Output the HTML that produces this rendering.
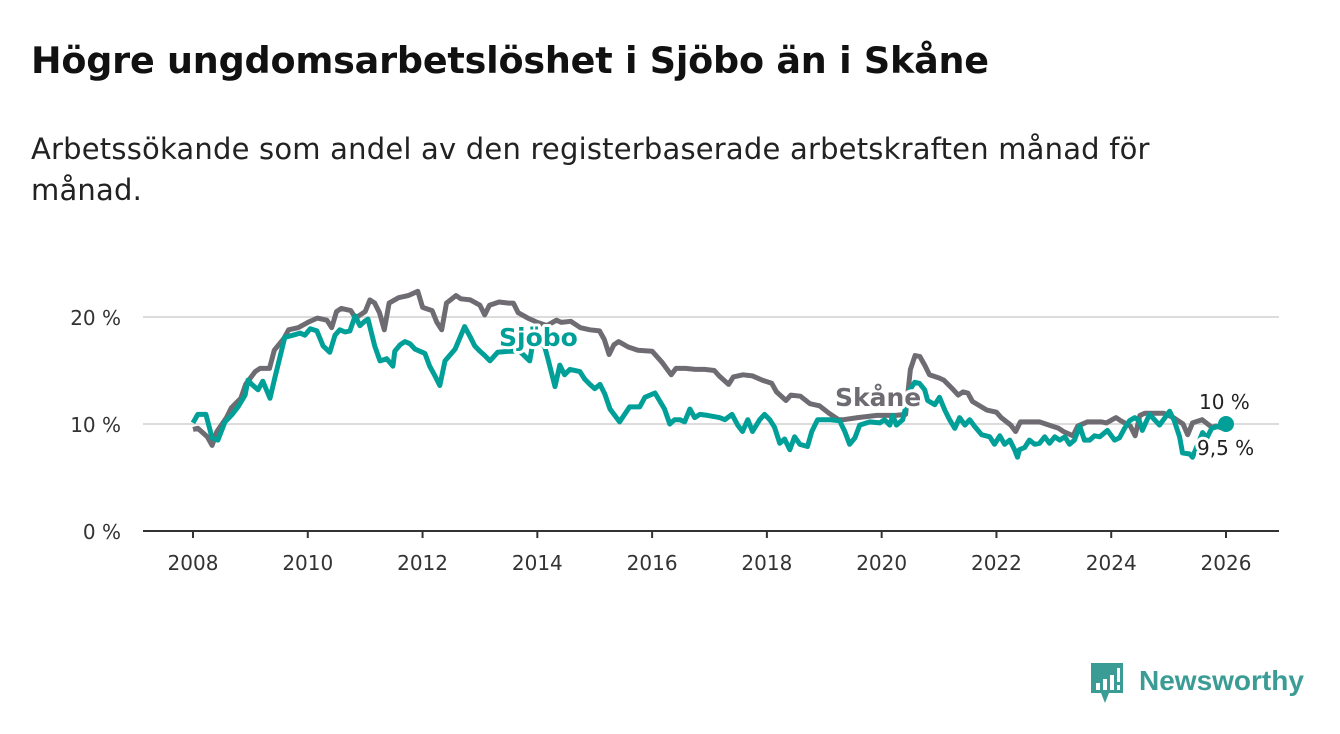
<!DOCTYPE html>
<html><head><meta charset="utf-8"><style>
body{margin:0;width:1340px;height:734px;background:#fff;font-family:"DejaVu Sans","Liberation Sans",sans-serif;overflow:hidden;position:relative}
#title{position:absolute;left:31px;top:39px;font-size:36.5px;font-weight:bold;color:#111;margin:0;letter-spacing:-0.2px}
#sub{position:absolute;left:31px;top:129px;font-size:29px;line-height:41px;color:#222;width:1250px;margin:0;letter-spacing:0.2px}
svg{position:absolute;left:0;top:0}
</style></head><body>
<h1 id="title">Högre ungdomsarbetslöshet i Sjöbo än i Skåne</h1>
<p id="sub">Arbetssökande som andel av den registerbaserade arbetskraften månad för<br>månad.</p>
<svg id="chart" width="1340" height="734"></svg>
<div style="position:absolute;left:1089px;top:663px;display:flex;align-items:center">
<svg width="36" height="42" style="position:relative"><path d="M2 0h32v30h-14l-4 10l-4-10h-10z" fill="#3a9c94"/><rect x="7" y="20" width="4" height="7" fill="#fff"/><rect x="14" y="16" width="4" height="11" fill="#fff"/><rect x="21" y="12" width="4" height="15" fill="#fff"/><rect x="28" y="5" width="3" height="14" fill="#fff"/><rect x="28" y="22" width="3" height="5" fill="#fff"/></svg>
<span style="font-family:'Liberation Sans',sans-serif;font-size:28px;font-weight:bold;color:#3a9c94;margin-left:14px;margin-top:-6px">Newsworthy</span></div>
<script>
const yTicks=[0,10,20];
const yTickLabels=["0 %","10 %","20 %"];
const xTicks=[2008,2010,2012,2014,2016,2018,2020,2022,2024,2026];
const skaneMonths=[0,1,3,4,5,7,8,10,11,13,14,16,17,19,20,22,24,26,28,29,30,31,33,34,36,37,38,39,40,41,43,45,47,48,50,51,52,53,55,56,58,60,61,62,64,66,67,68,70,72,74,76,77,79,81,83,85,86,87,88,89,91,93,96,98,100,101,103,105,107,109,110,112,113,115,117,119,121,122,124,125,127,129,131,133,135,136,139,143,147,149,150,151,152,153,154,156,157,159,160,161,162,163,166,168,169,171,172,173,177,179,181,182,184,185,187,190,191,193,194,196,197,198,199,202,203,205,207,208,209,211,213,214,216];
const skaneValues=[9.5,9.6,8.8,8.0,9.3,10.6,11.5,12.4,13.7,14.9,15.2,15.2,16.9,18.0,18.8,19.0,19.5,19.9,19.7,19.0,20.5,20.8,20.6,19.9,20.5,21.6,21.3,20.4,18.8,21.3,21.8,22.0,22.4,20.9,20.6,19.5,18.8,21.3,22.0,21.7,21.6,21.1,20.2,21.1,21.4,21.3,21.3,20.4,19.9,19.5,19.2,19.7,19.5,19.6,19.0,18.8,18.7,17.9,16.5,17.4,17.7,17.2,16.9,16.8,15.8,14.6,15.2,15.2,15.1,15.1,15.0,14.5,13.7,14.4,14.6,14.5,14.1,13.8,13.0,12.2,12.7,12.6,11.9,11.7,11.0,10.4,10.4,10.6,10.8,10.8,10.9,15.1,16.4,16.3,15.5,14.6,14.3,14.1,13.2,12.7,13.0,12.9,12.1,11.3,11.1,10.6,9.9,9.3,10.2,10.2,9.9,9.6,9.3,8.9,9.8,10.2,10.2,10.1,10.6,10.3,9.8,8.9,10.8,11.0,11.0,11.0,10.6,10.0,9.0,10.1,10.4,9.7,9.8,9.5];
const sjoboMonths=[0,1,2.7,4,5.2,6.7,8.2,9.4,10.9,11.5,12.3,13.6,14.6,16.1,17.1,19.2,20.9,22.4,23.4,24.5,25.9,27.2,28.6,29.7,30.7,31.8,32.8,33.9,34.9,35.9,36.6,38,39.1,40.5,41.8,42.2,43.3,44.3,45.4,46.4,47.4,48.5,49.5,50.6,51.6,52.7,54.8,56.8,57.9,58.9,60,61,62.1,63.7,66.3,68.3,70.4,71.5,73.6,74.2,75.7,76.7,77.7,78.8,80.9,81.9,83,84,85.1,86.1,87.2,89.2,91.3,93.4,94.5,96.6,98.6,99.7,100.7,101.8,102.8,103.9,104.9,106,107.6,110.1,111.2,112.7,113.9,114.9,116,117,118.5,119.5,120.6,121.6,122.7,123.7,124.8,125.8,126.9,128.5,129.4,130.6,133.1,135.2,136.3,137.3,138.4,139.4,141.5,143.6,144.6,145.7,146.3,147.1,148.4,149.9,150.9,151.9,153,153.6,155.1,156.1,157.2,158.2,159.3,160.3,161.4,162.4,163.4,164.9,166.6,167.6,168.7,169.7,170.8,171.8,172.4,172.8,173.9,174.9,176,177,178.1,179.1,180.2,181.2,182.3,183.3,184.3,185.4,186.4,187.5,188.5,189.6,191.2,192.7,193.7,194.8,195.8,196.9,197.9,198.5,200,202.1,203.1,204.2,205.2,206.3,206.9,208.4,209,211.1,212,213,216];
const sjoboValues=[10.1,10.9,10.9,8.7,8.5,10.2,10.9,11.6,12.7,14.1,13.7,13.2,14.0,12.4,14.3,18.1,18.3,18.5,18.3,18.9,18.7,17.3,16.7,18.3,18.8,18.6,18.7,20.1,19.2,19.6,19.8,17.3,15.9,16.1,15.4,16.8,17.4,17.7,17.5,17.0,16.8,16.6,15.4,14.5,13.6,15.9,17.0,19.1,18.2,17.3,16.8,16.4,15.9,16.7,16.8,16.8,15.9,18.7,17.1,16.1,13.5,15.5,14.6,15.1,14.9,14.2,13.7,13.3,13.7,12.8,11.4,10.2,11.6,11.6,12.5,12.9,11.4,10.0,10.4,10.4,10.2,11.4,10.6,10.9,10.8,10.6,10.4,10.9,9.9,9.3,10.4,9.3,10.4,10.9,10.4,9.7,8.2,8.6,7.6,8.8,8.1,7.9,9.3,10.4,10.4,10.3,9.3,8.1,8.7,9.9,10.2,10.1,10.4,9.9,10.8,9.9,10.4,13.2,13.9,13.8,13.2,12.2,11.8,12.5,11.3,10.4,9.6,10.6,9.9,10.4,9.8,9.0,8.8,8.1,8.9,8.1,8.5,7.6,6.9,7.6,7.8,8.5,8.1,8.2,8.8,8.2,8.8,8.5,8.8,8.1,8.5,9.8,8.5,8.5,8.9,8.8,9.4,8.5,8.7,9.6,10.3,10.6,10.3,9.4,10.9,9.9,10.5,11.2,10.3,8.8,7.3,7.2,6.9,9.2,8.7,9.6,10.0];
const NS="http://www.w3.org/2000/svg";
const svg=document.getElementById('chart');
const xS=m=>193+m*(1226-193)/216;
const yS=v=>531-v*10.7;
function mk(t,a){const e=document.createElementNS(NS,t);for(const k in a)e.setAttribute(k,a[k]);svg.appendChild(e);return e;}
yTicks.forEach((t,i)=>{
 if(t>0){const g=mk('line',{x1:143,x2:1279,y1:yS(t),y2:yS(t),stroke:'#dcdcdc','stroke-width':2});
 
 }
 const l=mk('text',{x:121,y:yS(t)+8,'text-anchor':'end','font-size':20,fill:'#333'});l.textContent=yTickLabels[i];
 
 
});
const ax=mk('line',{x1:143,x2:1279,y1:531,y2:531,stroke:'#333','stroke-width':2});


xTicks.forEach(y=>{const x=xS((y-2008)*12);
 const tk=mk('line',{x1:x,x2:x,y1:531,y2:538,stroke:'#333','stroke-width':2});
 
 
 const l=mk('text',{x:x,y:570,'text-anchor':'middle','font-size':20,fill:'#333'});l.textContent=y;
 
 });
function line(ms,vs,c,name){const d=ms.map((m,i)=>(i?'L':'M')+xS(m).toFixed(1)+' '+yS(vs[i]).toFixed(1)).join(' ');
 const p=mk('path',{d:d,fill:'none',stroke:c,'stroke-width':5,'stroke-linejoin':'round'});
 
 }
line(skaneMonths,skaneValues,'#6e6c72','skane-line');
line(sjoboMonths,sjoboValues,'#00a099','sjobo-line');
function lab(x,y,t,c,name,w,fs){const e=mk('text',{x:x,y:y,'font-size':fs||25,'font-weight':w||'bold',fill:c,stroke:'#fff','stroke-width':6,'paint-order':'stroke','stroke-linejoin':'round'});e.textContent=t;
 
 }
lab(499,346,'Sjöbo','#00a099','sjobo-label');
lab(835,406,'Skåne','#6e6c72','skane-label');
const dot=mk('circle',{cx:xS(216),cy:yS(sjoboValues[sjoboValues.length-1]),r:8,fill:'#00a099'});


lab(1199,409,'10 %','#222','sjobo-end-value','normal',20);
lab(1197,455,'9,5 %','#222','skane-end-value','normal',20);
</script>
</body></html>
